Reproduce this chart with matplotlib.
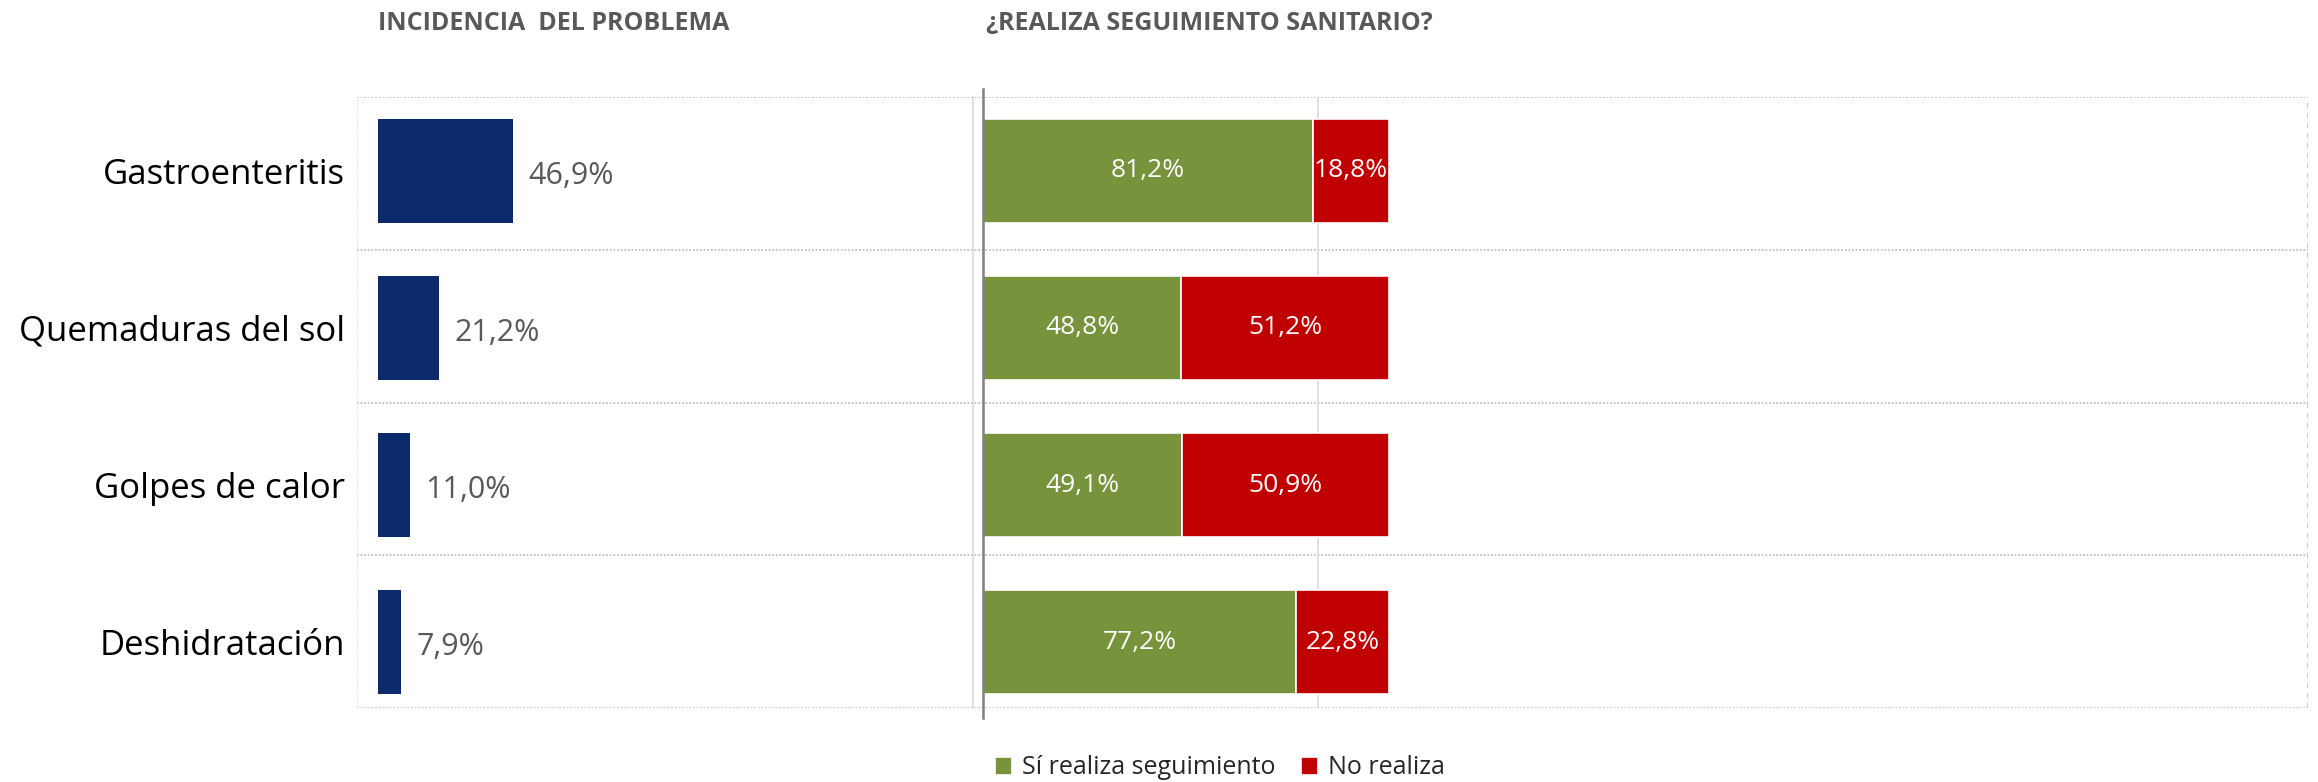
import matplotlib
matplotlib.use("Agg")
from matplotlib import pyplot as plt
import numpy as np

plt.rcParams['font.family'] = ['Open Sans', 'DejaVu Sans']

categories = ["Gastroenteritis", "Quemaduras del sol", "Golpes de calor", "Deshidratación"]
incidencia = [46.9, 21.2, 11.0, 7.9]
si_realiza = [81.2, 48.8, 49.1, 77.2]
no_realiza = [18.8, 51.2, 50.9, 22.8]
legend_labels = ["Sí realiza seguimiento", "No realiza"]

navy = "#0b2a6b"
green = "#77933c"
red = "#c00000"

W, H = 2318, 782
fig = plt.figure(figsize=(W / 100, H / 100), dpi=100)

def box(x0, x1, y0=97, y1=708):
    return [x0 / W, 1 - y1 / H, (x1 - x0) / W, (y1 - y0) / H]

ylims = (3.420, -0.471)
y = np.arange(len(categories))

# background with the dotted row lines across both panels
bg = fig.add_axes(box(357, 2308))
bg.set_xlim(0, 1)
bg.set_ylim(*ylims)
for gy in np.linspace(ylims[1], ylims[0], 5):
    bg.axhline(gy, color="#bfbfbf", linestyle=(0, (1, 1)), lw=1.3)
bg.axvline(0, color="#d9d9d9", linestyle=(0, (1, 1)), lw=1.2)
bg.axvline(1, color="#bfbfbf", linestyle=(0, (3, 3)), lw=1.2)
bg.axis("off")

# left panel: incidencia
ax1 = fig.add_axes(box(357, 973))
ax1.patch.set_alpha(0)
ax1.barh(y, incidencia, height=0.66, color=navy, zorder=3)
ax1.set_xlim(-7.32, 207.3)
ax1.set_ylim(*ylims)
for yi, v in zip(y, incidencia):
    ax1.text(v + 5.4, yi + 0.03, f"{v:.1f}%".replace(".", ","), ha="left", va="center",
             fontsize=22, color="#595959")
ax1.set_yticks(y)
ax1.set_yticklabels(categories, fontsize=25, color="black")
ax1.tick_params(axis="y", length=0, pad=8.5)
ax1.set_xticks([])
for s in ["top", "bottom", "left"]:
    ax1.spines[s].set_visible(False)
ax1.spines["right"].set_color("#d9d9d9")
ax1.spines["right"].set_linewidth(1.2)

# right panel: seguimiento
ax2 = fig.add_axes(box(983, 2308))
ax2.patch.set_alpha(0)
ax2.axvline(82.5, color="#d9d9d9", lw=1.2, zorder=1)
ax2.barh(y, si_realiza, height=0.66, color=green, edgecolor="white", lw=1.2,
         zorder=3, label=legend_labels[0])
ax2.barh(y, no_realiza, left=si_realiza, height=0.66, color=red, edgecolor="white",
         lw=1.2, zorder=3, label=legend_labels[1])
ax2.set_xlim(0, 326.4)
ax2.set_ylim(*ylims)
for yi, a, b in zip(y, si_realiza, no_realiza):
    ax2.text(a / 2, yi, f"{a:.1f}%".replace(".", ","), ha="center", va="center",
             fontsize=19, color="white", zorder=4)
    ax2.text(a + b / 2, yi, f"{b:.1f}%".replace(".", ","), ha="center", va="center",
             fontsize=19, color="white", zorder=4)
ax2.plot([0, 0], [3.484, -0.522], color="#808080", lw=1.8, clip_on=False, zorder=5)
ax2.set_xticks([])
ax2.set_yticks([])
for s in ax2.spines.values():
    s.set_visible(False)

# titles
fig.text(378 / W, 1 - 23 / H, "INCIDENCIA  DEL PROBLEMA", fontsize=18, fontweight="bold",
         color="#595959", ha="left", va="center")
fig.text(986 / W, 1 - 23 / H, "¿REALIZA SEGUIMIENTO SANITARIO?", fontsize=18,
         fontweight="bold", color="#595959", ha="left", va="center")

handles, labels = ax2.get_legend_handles_labels()
leg = fig.legend(handles, labels, loc="center", bbox_to_anchor=(1220 / W, 1 - 768 / H),
                 ncol=2, frameon=False, fontsize=18, handlelength=0.7, handleheight=0.7,
                 handletextpad=0.4, columnspacing=1.0, borderpad=0)
for t in leg.get_texts():
    t.set_color("#262626")

fig.savefig("out.png", dpi=100, facecolor="white")
